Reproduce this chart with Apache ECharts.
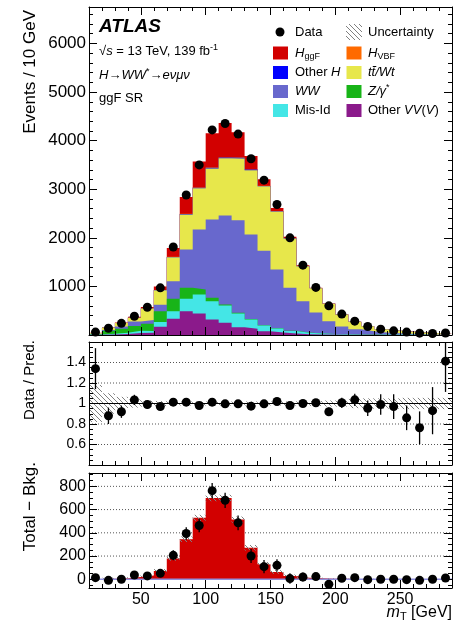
<!DOCTYPE html>
<html>
<head>
<meta charset="utf-8">
<title>ggF SR m_T</title>
<script src="https://cdn.jsdelivr.net/npm/echarts@6/dist/echarts.min.js"></script>
<style>
  html, body { margin: 0; padding: 0; background: #fff; }
  #chart { width: 458px; height: 622px; }
</style>
</head>
<body>
<div id="chart"></div>
<script>
// m_T bin centres [GeV], 10 GeV bins
const binCenters = [15, 25, 35, 45, 55, 65, 75, 85, 95, 105, 115, 125, 135, 145,
  155, 165, 175, 185, 195, 205, 215, 225, 235, 245, 255, 265, 275, 285];
const binWidth = 10;

// events per bin
const dataEvents = [60, 140, 240, 387, 572, 970, 1812, 2880, 3500, 4220, 4352, 4135, 3626, 3186,
  2685, 2000, 1437, 980, 600, 430, 285, 175, 120, 85, 60, 38, 32, 40];
const otherVV = [5, 10, 20, 40, 45, 170, 333, 490, 442, 319, 250, 161, 127, 78,
  50, 30, 18, 12, 8, 5, 4, 3, 2, 2, 1, 1, 1, 1];
const misId = [5, 15, 25, 45, 35, 95, 157, 254, 391, 377, 357, 281, 192, 117,
  84, 50, 30, 18, 12, 8, 5, 4, 3, 2, 2, 1, 1, 1];
const zGamma = [12, 60, 85, 100, 150, 225, 254, 226, 103, 69, 21, 15, 10, 8,
  6, 5, 4, 3, 3, 2, 2, 1, 1, 1, 1, 1, 0, 0];
const ww = [5, 20, 45, 95, 80, 135, 364, 790, 1235, 1612, 1831, 1905, 1739, 1530,
  1208, 886, 640, 430, 260, 160, 105, 70, 45, 30, 22, 15, 10, 8];
const ttWt = [16, 47, 71, 73, 233, 297, 492, 720, 848, 1052, 1180, 1270, 1325, 1327,
  1193, 1016, 725, 499, 361, 248, 156, 103, 69, 52, 43, 31, 22, 18];
const otherH = [0, 1, 1, 1, 1, 3, 6, 9, 12, 14, 15, 14, 12, 8,
  5, 3, 2, 1, 1, 0, 0, 0, 0, 0, 0, 0, 0, 0];
const hVBF = [0, 0, 0, 0, 1, 2, 4, 6, 8, 9, 10, 10, 8, 6,
  4, 3, 2, 1, 0, 0, 0, 0, 0, 0, 0, 0, 0, 0];
const hggF = [2, 5, 8, 20, 33, 72, 180, 345, 529, 700, 700, 514, 271, 129,
  63, 29, 14, 9, 5, 4, 3, 2, 1, 1, 1, 1, 0, 0];

// Data / Pred.
const ratioValues = [1.34, 0.88, 0.92, 1.035, 0.99, 0.97, 1.013, 1.013, 0.98, 1.013, 0.997, 0.997, 0.974, 0.997,
  1.02, 0.98, 1.0, 1.007, 0.92, 1.007, 1.036, 0.954, 0.99, 0.97, 0.86, 0.763, 0.93, 1.413];
const ratioErrors = [0.2, 0.08, 0.06, 0.05, 0.04, 0.03, 0.024, 0.019, 0.017, 0.016, 0.016, 0.016, 0.017, 0.018,
  0.02, 0.023, 0.027, 0.032, 0.04, 0.05, 0.06, 0.075, 0.1, 0.12, 0.12, 0.16, 0.23, 0.3];
const ratioBand = [0.18, 0.1, 0.065, 0.04, 0.03, 0.025, 0.02, 0.02, 0.02, 0.02, 0.02, 0.02, 0.02, 0.02,
  0.02, 0.02, 0.025, 0.025, 0.03, 0.03, 0.045, 0.05, 0.05, 0.05, 0.055, 0.055, 0.055, 0.055];

// Total - Bkg.
const diffValues = [14, -9, 0, 37, 29, 51, 206, 394, 463, 763, 680, 486, 200, 109,
  120, 6, 20, 23, -43, 9, 14, -3, 0, 0, -3, -9, 0, 11];
const diffErrors = [8, 12, 15, 20, 24, 31, 43, 54, 59, 65, 66, 64, 60, 56,
  52, 45, 38, 31, 25, 21, 17, 13, 11, 9, 8, 6, 6, 6];
const diffBand = [5, 8, 10, 12, 14, 16, 20, 24, 26, 28, 28, 26, 24, 20,
  16, 12, 10, 8, 6, 5, 4, 3, 3, 2, 2, 2, 2, 2];

// tick labels
const xMajorTicks = [50, 100, 150, 200, 250];
const mainYTicks = [1000, 2000, 3000, 4000, 5000, 6000];
const ratioYTicks = [0.6, 0.8, 1, 1.2, 1.4];
const diffYTicks = [0, 200, 400, 600, 800];
const ratioGrid = [0.6, 0.8, 1.2, 1.4];
const diffGrid = [200, 400, 600, 800];

const FONT = '"Liberation Sans", Arial, Helvetica, sans-serif';

const steps = (start, stop, step) => {
  const out = [];
  for (let v = start; v <= stop + step / 1000; v += step) out.push(Math.round(v * 1000) / 1000);
  return out;
};
const xMinorTicks = steps(10, 290, 10);

// diagonal hatch used for the uncertainty bands
const makeHatch = () => {
  const c = document.createElement("canvas");
  c.width = 5;
  c.height = 5;
  const ctx = c.getContext("2d");
  ctx.strokeStyle = "#808080";
  ctx.lineWidth = 1;
  ctx.beginPath();
  ctx.moveTo(-1, -1); ctx.lineTo(6, 6);
  ctx.moveTo(-1, 4); ctx.lineTo(1, 6);
  ctx.moveTo(4, -1); ctx.lineTo(6, 1);
  ctx.stroke();
  return { image: c, repeat: "repeat" };
};
const hatchFill = makeHatch();

const plain = v => String(v);

const xAxes = (gridIndex, showLabels) => [
  { pos: "bottom", ticks: xMajorTicks, len: 8, line: true, labels: showLabels },
  { pos: "bottom", ticks: xMinorTicks, len: 4 },
  { pos: "top", ticks: xMajorTicks, len: 8, line: true },
  { pos: "top", ticks: xMinorTicks, len: 4 }
].map(a => ({
  type: "value", gridIndex, position: a.pos, min: 10, max: 290, z: 10,
  axisLine: { show: !!a.line, onZero: false, lineStyle: { color: "#000", width: 1 } },
  axisTick: { show: true, inside: true, length: a.len, customValues: a.ticks, lineStyle: { color: "#000", width: 1 } },
  axisLabel: { show: !!a.labels, customValues: a.ticks, formatter: plain, color: "#000", fontSize: 16, fontFamily: FONT, margin: 4 },
  splitLine: { show: false }
}));

const yAxes = (gridIndex, min, max, major, minor, fontSize) => [
  { pos: "left", ticks: major, len: 8, line: true, labels: true },
  { pos: "left", ticks: minor, len: 4 },
  { pos: "right", ticks: major, len: 8, line: true },
  { pos: "right", ticks: minor, len: 4 }
].map(a => ({
  type: "value", gridIndex, position: a.pos, min, max, z: 10,
  axisLine: { show: !!a.line, onZero: false, lineStyle: { color: "#000", width: 1 } },
  axisTick: { show: true, inside: true, length: a.len, customValues: a.ticks, lineStyle: { color: "#000", width: 1 } },
  axisLabel: { show: !!a.labels, customValues: a.ticks, formatter: plain, color: "#000", fontSize, fontFamily: FONT, margin: 3 },
  splitLine: { show: false }
}));

// filled step histogram from 0 up to values
const stepArea = (values, color, axis, z) => {
  const data = binCenters.map((c, i) => [c - binWidth / 2, values[i]]);
  data.push([binCenters[binCenters.length - 1] + binWidth / 2, values[values.length - 1]]);
  return {
    type: "line", xAxisIndex: axis, yAxisIndex: axis, data, step: "end",
    symbol: "none", showSymbol: false, silent: true, z,
    lineStyle: { width: 0, opacity: 0 },
    areaStyle: { color, opacity: 1, origin: "auto" }
  };
};

const hLines = (values, axis, style, z) => ({
  type: "custom", xAxisIndex: axis, yAxisIndex: axis, silent: true, z, clip: true,
  data: values.map(v => [10, v]),
  renderItem: (params, api) => {
    const a = api.coord([10, api.value(1)]);
    const b = api.coord([290, api.value(1)]);
    return { type: "line", shape: { x1: a[0], y1: a[1], x2: b[0], y2: b[1] }, style: Object.assign({ fill: null }, style) };
  }
});

const hatchBand = (centres, halfWidths, axis, z) => ({
  type: "custom", xAxisIndex: axis, yAxisIndex: axis, silent: true, z, clip: true,
  data: binCenters.map((c, i) => [c, centres[i] - halfWidths[i], centres[i] + halfWidths[i]]),
  renderItem: (params, api) => {
    const c = api.value(0);
    const p0 = api.coord([c - binWidth / 2, api.value(2)]);
    const p1 = api.coord([c + binWidth / 2, api.value(1)]);
    return {
      type: "rect",
      shape: { x: p0[0], y: p0[1], width: p1[0] - p0[0], height: p1[1] - p0[1] },
      style: { fill: hatchFill }
    };
  }
});

const errorBars = (values, errors, axis, z) => ({
  type: "custom", xAxisIndex: axis, yAxisIndex: axis, silent: true, z, clip: true,
  data: binCenters.map((c, i) => [c, values[i], errors[i]]),
  renderItem: (params, api) => {
    const c = api.value(0), v = api.value(1), e = api.value(2);
    const a = api.coord([c, v - e]);
    const b = api.coord([c, v + e]);
    return { type: "line", shape: { x1: a[0], y1: a[1], x2: b[0], y2: b[1] }, style: { stroke: "#000", lineWidth: 1.3 } };
  }
});

const points = (values, axis) => ({
  type: "scatter", xAxisIndex: axis, yAxisIndex: axis, silent: true, z: 6,
  data: binCenters.map((c, i) => [c, values[i]]),
  symbol: "circle", symbolSize: 9, itemStyle: { color: "#000", opacity: 1 }
});

// stack from bottom to top
const stackOrder = [
  { values: otherVV, color: "#8b1a8b" },
  { values: misId, color: "#44e6e6" },
  { values: zGamma, color: "#18b418" },
  { values: ww, color: "#6868cd" },
  { values: ttWt, color: "#e7e74b" },
  { values: otherH, color: "#0000ff" },
  { values: hVBF, color: "#ff6a00" },
  { values: hggF, color: "#d20000" }
];

const stackSeries = () => {
  let running = binCenters.map(() => 0);
  const layers = stackOrder.map(s => {
    running = running.map((v, i) => v + s.values[i]);
    return { values: running, color: s.color };
  });
  // draw the tallest first so every layer covers down to 0
  return layers.reverse().map(l => stepArea(l.values, l.color, 0, 2));
};

const rich = {
  n: { fontSize: 13, fontFamily: FONT, lineHeight: 16 },
  i: { fontSize: 13, fontFamily: FONT, fontStyle: "italic", lineHeight: 16 },
  sub: { fontSize: 9, fontFamily: FONT, lineHeight: 9, verticalAlign: "bottom" },
  sup: { fontSize: 9, fontFamily: FONT, lineHeight: 9, verticalAlign: "top" }
};

const label = (x, y, text, extra) => ({
  type: "text", x, y, silent: true,
  style: Object.assign({
    text, fill: "#000", fontSize: 13, fontFamily: FONT, rich,
    align: "left", verticalAlign: "middle", textAlign: "left", textVerticalAlign: "middle"
  }, extra || {})
});

const box = (x, yc, color) => ({
  type: "rect", silent: true,
  shape: { x, y: yc - 6.5, width: 15, height: 13 },
  style: { fill: color }
});

const legendRows = [32, 53, 72.5, 91.5, 110.5];

const graphics = () => [
  label(99, 27, "ATLAS", { fontSize: 19, fontWeight: "bold", fontStyle: "italic" }),
  label(99, 51, "{n|√}{i|s}{n| = 13 TeV, 139 fb}{sup|-1}"),
  label(99, 75, "{i|H}{n|→}{i|WW}{sup|*}{n|→}{i|eνμν}"),
  label(99, 98, "ggF SR"),

  { type: "circle", silent: true, shape: { cx: 280, cy: legendRows[0], r: 4.5 }, style: { fill: "#000" } },
  label(295, legendRows[0], "Data"),
  box(273, legendRows[1], "#d20000"),
  label(295, legendRows[1], "{i|H}{sub|ggF}"),
  box(273, legendRows[2], "#0000ff"),
  label(295, legendRows[2], "{n|Other }{i|H}"),
  box(273, legendRows[3], "#6868cd"),
  label(295, legendRows[3], "{i|WW}"),
  box(273, legendRows[4], "#44e6e6"),
  label(295, legendRows[4], "Mis-Id"),

  { type: "rect", silent: true, shape: { x: 346, y: legendRows[0] - 8, width: 16, height: 16 }, style: { fill: hatchFill } },
  label(368, legendRows[0], "Uncertainty"),
  box(346.5, legendRows[1], "#ff6a00"),
  label(368, legendRows[1], "{i|H}{sub|VBF}"),
  box(346.5, legendRows[2], "#e7e74b"),
  label(368, legendRows[2], "{i|tt\u0304/Wt}"),
  box(346.5, legendRows[3], "#18b418"),
  label(368, legendRows[3], "{i|Z/γ}{sup|*}"),
  box(346.5, legendRows[4], "#8b1a8b"),
  label(368, legendRows[4], "{n|Other }{i|VV}{n|(}{i|V}{n|)}"),

  // axis titles
  label(30, 10, "Events / 10 GeV", { fontSize: 17, align: "right", textAlign: "right" }),
  label(30, 340, "Data / Pred.", { fontSize: 15, align: "right", textAlign: "right" }),
  label(30, 462, "Total − Bkg.", { fontSize: 17, align: "right", textAlign: "right" }),
  label(452, 613, "{x|m}{xs|T}{xn| [GeV]}", {
    align: "right", textAlign: "right",
    rich: {
      x: { fontSize: 16, fontFamily: FONT, fontStyle: "italic", lineHeight: 18 },
      xs: { fontSize: 11, fontFamily: FONT, lineHeight: 11, verticalAlign: "bottom" },
      xn: { fontSize: 16, fontFamily: FONT, lineHeight: 18 }
    }
  })
].map(el => {
  if (el.style && /^(Events|Data \/|Total)/.test(el.style.text)) el.rotation = Math.PI / 2;
  return el;
});

const getOption = () => ({
  animation: false,
  backgroundColor: "#fff",
  textStyle: { fontFamily: FONT },
  grid: [
    { left: 89, top: 7, width: 363, height: 328, outerBoundsMode: "none" },
    { left: 89, top: 342, width: 363, height: 123, outerBoundsMode: "none" },
    { left: 89, top: 473, width: 363, height: 115, outerBoundsMode: "none" }
  ],
  xAxis: [...xAxes(0, false), ...xAxes(1, false), ...xAxes(2, true)],
  yAxis: [
    ...yAxes(0, 0, 6750, mainYTicks, steps(0, 6600, 200), 17),
    ...yAxes(1, 0.4, 1.6, ratioYTicks, steps(0.4, 1.6, 0.05), 14),
    ...yAxes(2, -75, 915, diffYTicks, steps(-50, 900, 50), 16)
  ],
  series: [
    ...stackSeries(),
    points(dataEvents, 0),

    hLines(ratioGrid, 4, { stroke: "#555", lineWidth: 1, lineDash: [1, 2] }, 1),
    hatchBand(binCenters.map(() => 1), ratioBand, 4, 2),
    hLines([1], 4, { stroke: "#000", lineWidth: 1 }, 3),
    errorBars(ratioValues, ratioErrors, 4, 4),
    points(ratioValues, 4),

    hLines(diffGrid, 8, { stroke: "#555", lineWidth: 1, lineDash: [1, 2] }, 1),
    stepArea(hggF, "#d20000", 8, 2),
    hatchBand(hggF, diffBand, 8, 3),
    hLines([0], 8, { stroke: "#9090dd", lineWidth: 1.5 }, 3),
    errorBars(diffValues, diffErrors, 8, 4),
    points(diffValues, 8)
  ],
  graphic: { elements: graphics() }
});

const chartInstance = echarts.init(document.getElementById("chart"), null, { renderer: "canvas" });
chartInstance.setOption(getOption());
</script>
</body>
</html>
